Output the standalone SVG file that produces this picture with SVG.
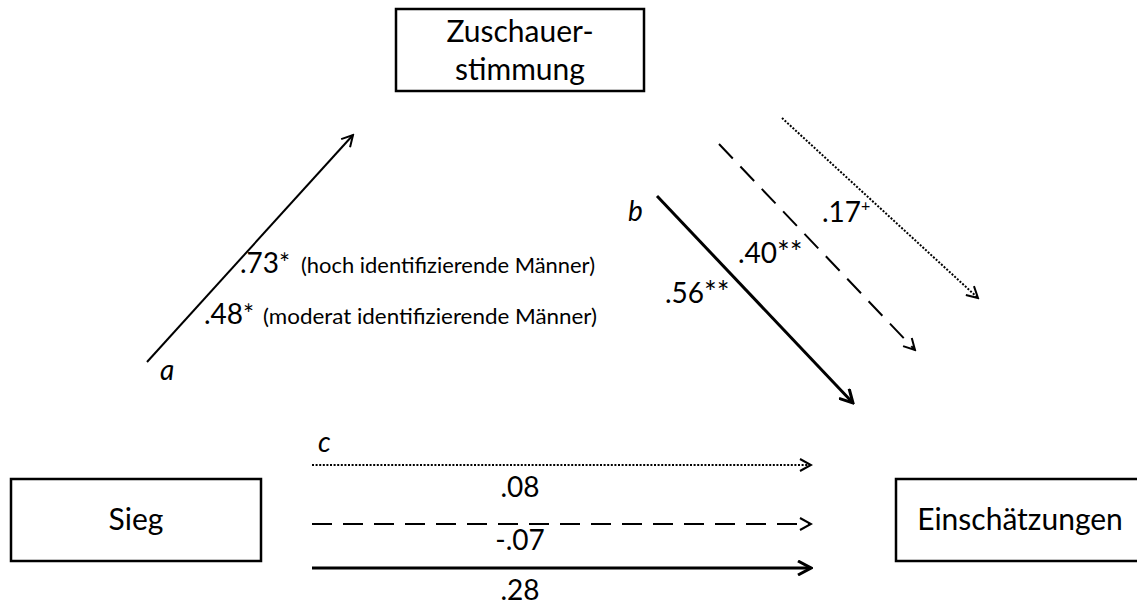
<svg xmlns="http://www.w3.org/2000/svg" width="1137" height="610" viewBox="0 0 1137 610">
  <style>
    .box { fill: #ffffff; stroke: #000000; stroke-width: 2.5; }
    .lbl { font-family: Lato, "Open Sans", "Liberation Sans", sans-serif; fill: #000000; }
    .node { font-size: 30px; }
    .num { font-size: 28px; }
    .star { font-size: 30px; }
    .star-sm { font-size: 26px; }
    .paren { font-size: 21px; }
    .it { font-style: italic; font-size: 28px; }
    .edge { fill: none; stroke: #000000; stroke-width: 2; }
    .thick { stroke-width: 3; }
    .dash { stroke-dasharray: 20 11; }
    .dot { stroke-dasharray: 2 1.6; }
  </style>
  <defs>
    <marker id="open" viewBox="0 0 14 14" refX="12" refY="7" markerWidth="14" markerHeight="14" markerUnits="userSpaceOnUse" orient="auto">
      <path d="M1,1 L12,7 L1,13" fill="none" stroke="#000" stroke-width="2"/>
    </marker>
    <marker id="openThick" viewBox="0 0 16 16" refX="14" refY="8" markerWidth="16" markerHeight="16" markerUnits="userSpaceOnUse" orient="auto">
      <path d="M1,1 L14,8 L1,15" fill="none" stroke="#000" stroke-width="3"/>
    </marker>
  </defs>

  <!-- nodes -->
  <g id="zuschauerstimmung">
    <rect class="box" x="396" y="9" width="248" height="82"/>
    <text class="lbl node" x="520" y="42" text-anchor="middle">Zuschauer-</text>
    <text class="lbl node" x="520" y="80" text-anchor="middle">stimmung</text>
  </g>
  <g id="sieg">
    <rect class="box" x="11" y="479" width="250" height="82"/>
    <text class="lbl node" x="136" y="530" text-anchor="middle">Sieg</text>
  </g>
  <g id="einschaetzungen">
    <rect class="box" x="896" y="479" width="260" height="82"/>
    <text class="lbl node" x="1020" y="530" text-anchor="middle">Einschätzungen</text>
  </g>

  <!-- connectors -->
  <g id="connectors">
    <!-- a path -->
    <line class="edge" x1="147" y1="362" x2="353" y2="135" marker-end="url(#open)"/>
    <!-- b paths -->
    <line class="edge thick" x1="657" y1="196" x2="853" y2="403" marker-end="url(#openThick)"/>
    <line class="edge dash" x1="719" y1="144" x2="915" y2="350" marker-end="url(#open)"/>
    <line class="edge dot" x1="782" y1="118" x2="978" y2="298" marker-end="url(#open)"/>
    <!-- c paths -->
    <line class="edge dot" x1="312" y1="465" x2="811" y2="465" marker-end="url(#open)"/>
    <line class="edge dash" x1="312" y1="524" x2="811" y2="524" marker-end="url(#open)"/>
    <line class="edge thick" x1="312" y1="568" x2="811" y2="568" marker-end="url(#openThick)"/>
  </g>

  <!-- path labels -->
  <g id="labels">
    <text class="lbl it" x="160" y="380">a</text>
    <text class="lbl num" x="240" y="273">.73<tspan class="star-sm">*</tspan></text>
    <text class="lbl paren" x="301" y="273" textLength="294" lengthAdjust="spacingAndGlyphs">(hoch identifizierende Männer)</text>
    <text class="lbl num" x="204" y="324">.48<tspan class="star-sm">*</tspan></text>
    <text class="lbl paren" x="263" y="324" textLength="334" lengthAdjust="spacingAndGlyphs">(moderat identifizierende Männer)</text>

    <text class="lbl it" x="628" y="221">b</text>
    <text class="lbl num" x="822" y="222">.17<tspan font-size="16" dy="-11">+</tspan></text>
    <text class="lbl num" x="738" y="263">.40<tspan class="star">**</tspan></text>
    <text class="lbl num" x="665" y="303">.56<tspan class="star">**</tspan></text>

    <text class="lbl it" x="318" y="452">c</text>
    <text class="lbl num" x="520" y="497" text-anchor="middle">.08</text>
    <text class="lbl num" x="520" y="550" text-anchor="middle">-.07</text>
    <text class="lbl num" x="520" y="600" text-anchor="middle">.28</text>
  </g>
</svg>
